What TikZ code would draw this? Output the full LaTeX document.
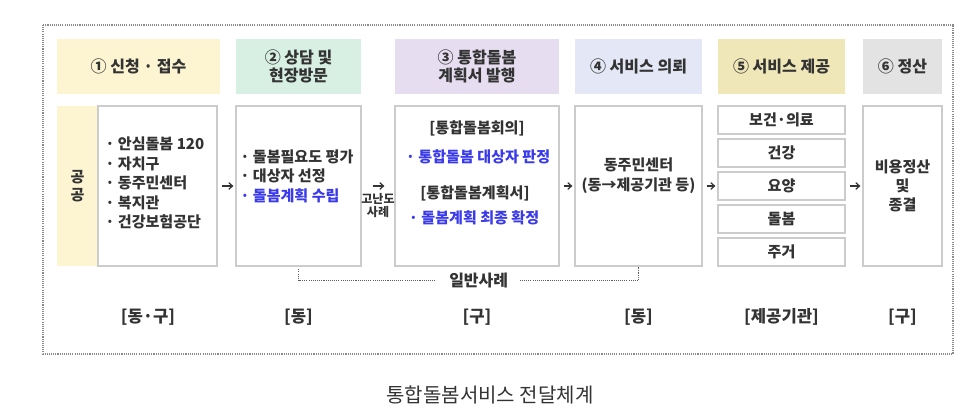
\documentclass[tikz,border=0pt]{standalone}
\usepackage{fontspec}
\setmainfont{Noto Sans CJK KR}
\usepackage{tikz}
\usetikzlibrary{
  arrows.meta,
  positioning,
  calc
}
\usepackage{xcolor}
\definecolor{cdark}{HTML}{333333}
\definecolor{cblue}{RGB}{58,58,235}
\definecolor{cline}{HTML}{CCCCCC}
\definecolor{cdot}{HTML}{8A8A8A}
\definecolor{hyellow}{HTML}{FDF5D2}
\definecolor{hgreen}{HTML}{D8F0E4}
\definecolor{hpurple}{HTML}{E6DEF0}
\definecolor{hblue}{HTML}{E4E7F5}
\definecolor{hkhaki}{HTML}{F0E7B8}
\definecolor{hgray}{HTML}{E3E3E3}
\tikzset{
  head/.style={
    rectangle, inner sep=0pt,
    minimum height=41.25pt,
    text=cdark, align=center,
    font=\fontsize{12}{13.5}\selectfont\bfseries
  },
  body/.style={
    rectangle, inner sep=0pt,
    fill=white, draw=cline, line width=0.9pt,
    minimum height=120pt,
    text=cdark, align=center,
    font=\fontsize{11.3}{14.5}\selectfont\bfseries
  },
  svc/.style={
    body, minimum width=95.25pt, minimum height=21pt
  },
  txt/.style={
    inner sep=0pt, text=cdark, align=left,
    font=\fontsize{11.3}{14.6}\selectfont\bfseries
  },
  lvl/.style={
    inner sep=0pt, text=cdark,
    font=\fontsize{12.5}{13}\selectfont\bfseries
  },
  arr/.style={-{Straight Barb[length=2.8pt, width=5pt]},
    line width=0.9pt, color=cdark,
    shorten <=3pt, shorten >=1.5pt},
  frame/.style={draw=cdot, line width=0.8pt,
    dash pattern=on 0.8pt off 0.8pt}
}

\begin{document}
\begin{tikzpicture}[x=0.75pt, y=-0.75pt]
    \useasboundingbox (0,0) rectangle (978,416);

    %% ---- outer frame ------------------------------------------------
    \draw[frame] (43,25) rectangle (953,354);

    %% ---- step headers -----------------------------------------------
    \node[head, fill=hyellow, minimum width=122.25pt] (h1) at (138.5,66.5)
      {① 신청 · 접수};
    \node[head, fill=hgreen, minimum width=93.75pt] (h2) at (298.5,66.5)
      {② 상담 및\\현장방문};
    \node[head, fill=hpurple, minimum width=123pt] (h3) at (477,66.5)
      {③ 통합돌봄\\계획서 발행};
    \node[head, fill=hblue, minimum width=95.25pt] (h4) at (638.5,66.5)
      {④ 서비스 의뢰};
    \node[head, fill=hkhaki, minimum width=95.25pt] (h5) at (781.5,66.5)
      {⑤ 서비스 제공};
    \node[head, fill=hgray, minimum width=59.25pt] (h6) at (902.5,66.5)
      {⑥ 정산};

    %% ---- step bodies ------------------------------------------------
    \node[head, fill=hyellow, minimum width=30.75pt, minimum height=120pt,
          font=\fontsize{11.3}{13.5}\selectfont\bfseries]
      (pub) at (77.5,186) {공\\공};
    \node[body, minimum width=89.25pt] (b1) at (157.5,186) {};
    \node[txt, anchor=west] (l1) at (105,183)
      {· 안심돌봄 120\\· 자치구\\· 동주민센터\\· 복지관\\· 건강보험공단};

    \node[body, minimum width=93.75pt] (b2) at (298.5,186) {};
    \node[txt, anchor=west] (l2) at (240,176)
      {· 돌봄필요도 평가\\· 대상자 선정\\{\color{cblue}· 돌봄계획 수립}};

    \node[body, minimum width=123pt] (b3) at (477,186) {};
    \node[txt] (m1) at (477,128) {[통합돌봄회의]};
    \node[txt, text=cblue] (m2) at (478,157) {· 통합돌봄 대상자 판정};
    \node[txt] (m3) at (475,193) {[통합돌봄계획서]};
    \node[txt, text=cblue] (m4) at (474,218) {· 돌봄계획 최종 확정};

    \node[body, minimum width=95.25pt] (b4) at (638.5,186) {};
    \node[txt, align=center, font=\fontsize{11.3}{15}\selectfont\bfseries]
      (l4) at (638.5,176) {동주민센터\\(동→제공기관 등)};

    \node[svc] (s1) at (781.5,120) {보건·의료};
    \node[svc] (s2) at (781.5,153) {건강};
    \node[svc] (s3) at (781.5,186) {요양};
    \node[svc] (s4) at (781.5,219) {돌봄};
    \node[svc] (s5) at (781.5,252) {주거};

    \node[body, minimum width=59.25pt, font=\fontsize{11.3}{14}\selectfont\bfseries]
      (b6) at (902.5,186) {비용정산\\및\\종결};

    %% ---- flow arrows ------------------------------------------------
    \draw[arr] (b1.east) -- (b2.west);
    \draw[arr, shorten <=8.25pt, shorten >=7.5pt] (b2.east) -- (b3.west)
      node[midway, below=5pt, inner sep=0pt, text=cdark, align=center,
           font=\fontsize{9}{9.75}\selectfont\bfseries] {고난도\\사례};
    \draw[arr] (b3.east) -- (b4.west);
    \draw[arr] (b4.east) -- (s3.west);
    \draw[arr] (s3.east) -- (b6.west);

    %% ---- general case bracket ---------------------------------------
    \draw[frame, draw=cdark!80, shorten <=2pt]
      (b2.south) -- ++(0,14) -- ($(b4.south)+(0,14)$)
      node[pos=0.53, fill=white, inner xsep=9pt, inner ysep=1pt, text=cdark,
           font=\fontsize{12}{12}\selectfont\bfseries] (gen) {일반사례}
      -- (b4.south);

    %% ---- level labels -----------------------------------------------
    \node[lvl] (v1) at (148,317) {[동·구]};
    \node[lvl] (v2) at (b2.south |- 0,317) {[동]};
    \node[lvl] (v3) at (b3.south |- 0,317) {[구]};
    \node[lvl] (v4) at (b4.south |- 0,317) {[동]};
    \node[lvl] (v5) at (s5.south |- 0,317) {[제공기관]};
    \node[lvl] (v6) at (b6.south |- 0,317) {[구]};

    %% ---- caption ----------------------------------------------------
    \node[text=cdark, font=\fontsize{15}{15}\selectfont]
      (cap) at (490,395) {통합돌봄서비스 전달체계};

\end{tikzpicture}
\end{document}
